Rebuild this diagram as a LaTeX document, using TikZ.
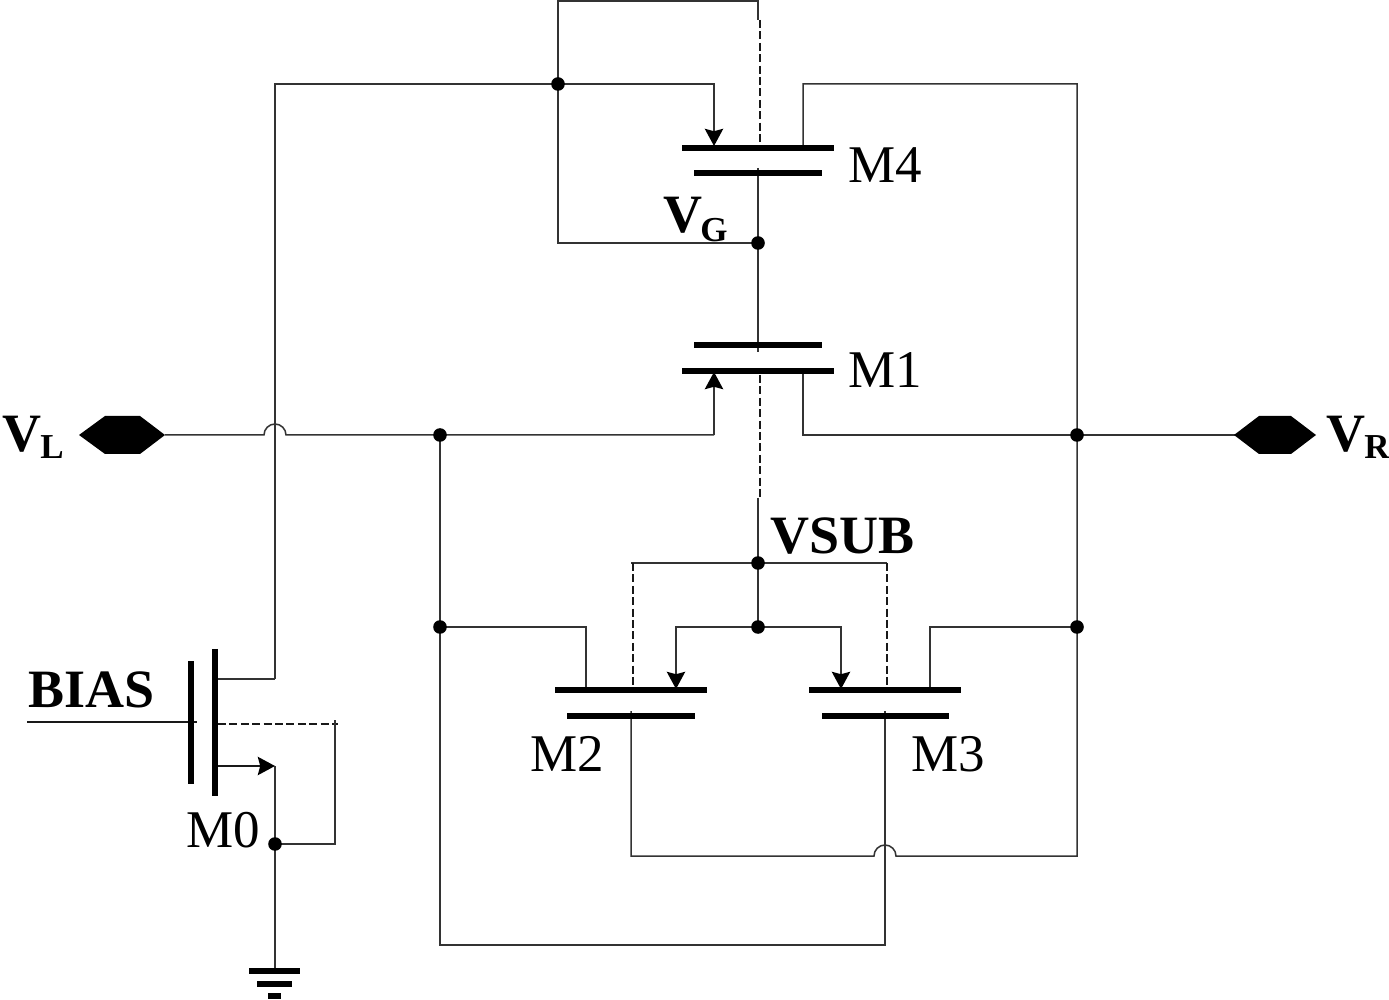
\documentclass[tikz,border=0pt]{standalone}
\usepackage{fontspec}
\setmainfont{Liberation Serif}
\usetikzlibrary{arrows.meta,backgrounds}
\tikzset{
  wire/.style={line width=0.75pt,draw=black!80,line join=miter},
  dwire/.style={line width=0.85pt,draw=black!90,dash pattern=on 4pt off 1.7pt},
  arr/.style={wire,-{Stealth[length=8.6pt,width=9.2pt,inset=1.2pt,color=black]}},
  plate/.style={line width=2.9pt,draw=black},
  jdot/.style={circle,fill=black,inner sep=0pt,minimum size=6.8pt,draw=none},
  devlabel/.style={anchor=base west,inner sep=0pt,font=\fontsize{26.5}{30}\selectfont},
  siglabel/.style={anchor=base west,inner sep=0pt,font=\fontsize{27}{30}\selectfont\bfseries},
  sublabel/.style={anchor=base west,inner sep=0pt,font=\fontsize{17.5}{20}\selectfont\bfseries},
  portshape/.style={fill=black,draw=none}
}
\begin{document}
\begin{tikzpicture}[x=0.5pt,y=-0.5pt]
\useasboundingbox (0,0) rectangle (1389,1000);
% coordinates
\coordinate (tr) at (758,1); \coordinate (trb) at (758,20);
\coordinate (d4t) at (760,20); \coordinate (d4b) at (760,147);
\coordinate (busl) at (275,84); \coordinate (s4t) at (714,84); \coordinate (s4b) at (714,146);
\coordinate (d4top) at (803,84); \coordinate (d4bar) at (803,148); \coordinate (railtr) at (1077,84);
\coordinate (railbr) at (1077,856); \coordinate (x2) at (631,856); \coordinate (g2b) at (631,711);
\coordinate (hump2r) at (896,856);
\coordinate (g4) at (758,168); \coordinate (vgl) at (558,243); \coordinate (g1) at (758,352);
\coordinate (s1b) at (714,435); \coordinate (s1t) at (714,372);
\coordinate (d1t) at (803,371); \coordinate (d1b) at (803,435);
\coordinate (d1dt) at (760,375); \coordinate (d1db) at (760,498); \coordinate (subt) at (758,498);
\coordinate (lp) at (165,435); \coordinate (humpl) at (264,435);
\coordinate (rp) at (1235,435);
\coordinate (vl2) at (631,563); \coordinate (vr2) at (887,563);
\coordinate (dm2t) at (633,563); \coordinate (dm2b) at (633,689);
\coordinate (dm3t) at (887,563); \coordinate (dm3b) at (887,689);
\coordinate (s2t) at (676,627); \coordinate (s2b) at (676,689);
\coordinate (s3t) at (841,627); \coordinate (s3b) at (841,689);
\coordinate (d2t) at (586,627); \coordinate (d2b) at (586,690);
\coordinate (d3t) at (930,627); \coordinate (d3b) at (930,690);
\coordinate (lbb) at (440,945); \coordinate (rbb) at (885,945); \coordinate (g3b) at (885,711);
\coordinate (m0d) at (218,679); \coordinate (m0dc) at (275,679);
\coordinate (biasl) at (27,722); \coordinate (biasr) at (197,722);
\coordinate (m0bl) at (218,724); \coordinate (m0br) at (338,724);
\coordinate (m0bt) at (335,720); \coordinate (m0bb) at (335,844);
\coordinate (m0sl) at (218,766); \coordinate (m0sr) at (275,766);
\coordinate (gnd) at (275,971);
% junctions
\node[jdot] (j1) at (558,84) {};
\node[jdot] (j2) at (758,243) {};
\node[jdot] (j3) at (440,435) {};
\node[jdot] (j4) at (1077,435) {};
\node[jdot] (j5) at (758,563) {};
\node[jdot] (j6) at (758,627) {};
\node[jdot] (j7) at (440,627) {};
\node[jdot] (j8) at (1077,627) {};
\node[jdot] (j9) at (275,844) {};
% wires
\begin{pgfonlayer}{background}
\draw[wire] (j1.center) |- (tr) -- (trb);
\draw[dwire] (d4t) -- (d4b);
\draw[wire] (m0dc) -- (busl) -- (j1.center);
\draw[arr] (j1.center) -- (s4t) -- (s4b);
\draw[wire] (d4bar) -- (d4top) -- (railtr) -- (railbr) -- (hump2r) arc[start angle=0,end angle=180,radius=5.5pt] -- (x2) -- (g2b);
\draw[wire] (g4) -- (j2.center) -- (g1);
\draw[wire] (j2.center) -- (vgl) -- (j1.center);
\draw[wire] (lp) -- (humpl) arc[start angle=180,end angle=0,radius=5.5pt] -- (j3.center) -- (s1b);
\draw[arr] (s1b) -- (s1t);
\draw[wire] (d1t) -- (d1b) -- (j4.center) -- (rp);
\draw[dwire] (d1dt) -- (d1db);
\draw[wire] (subt) -- (j5.center) -- (j6.center);
\draw[wire] (vl2) -- (j5.center) -- (vr2);
\draw[dwire] (dm2t) -- (dm2b);
\draw[dwire] (dm3t) -- (dm3b);
\draw[arr] (j6.center) -- (s2t) -- (s2b);
\draw[arr] (j6.center) -- (s3t) -- (s3b);
\draw[wire] (j3.center) -- (j7.center) -- (d2t) -- (d2b);
\draw[wire] (d3b) -- (d3t) -- (j8.center);
\draw[wire] (j7.center) -- (lbb) -- (rbb) -- (g3b);
\draw[wire] (m0d) -- (m0dc);
\draw[line width=0.75pt,draw=black!90] (biasl) -- (biasr);
\draw[dwire] (m0bl) -- (m0br);
\draw[wire] (m0bt) -- (m0bb) -- (j9.center);
\draw[arr,draw=black!90] (m0sl) -- (m0sr);
\draw[wire] (m0sr) -- (j9.center) -- (gnd);
\end{pgfonlayer}
% plates
\draw[plate] (682,148) -- (834,148);
\draw[plate] (694,173) -- (822,173);
\draw[plate] (694,345) -- (822,345);
\draw[plate] (682,371) -- (834,371);
\draw[plate] (555,690) -- (707,690);
\draw[plate] (567,716) -- (695,716);
\draw[plate] (809,690) -- (961,690);
\draw[plate] (822,716) -- (949,716);
\draw[plate] (191,661) -- (191,784);
\draw[plate] (215,649) -- (215,796);
% ground
\draw[plate] (249,971) -- (300,971);
\draw[plate] (257,984) -- (292,984);
\draw[plate] (268,996) -- (281,996);
% ports
\path[portshape] (79,435) -- (105,416) -- (140,416) -- (165,435) -- (140,454) -- (105,454) -- cycle;
\path[portshape] (1234,435) -- (1259,416) -- (1291,416) -- (1316,435) -- (1291,454) -- (1259,454) -- cycle;
% labels
\node[siglabel] (vl) at (2,452) {V};
\node[sublabel] (vlsub) at (40,459) {L};
\node[siglabel] (vr) at (1326,452) {V};
\node[sublabel] (vrsub) at (1364,459) {R};
\node[siglabel] (vg) at (663,233) {V};
\node[sublabel] (vgsub) at (700,242) {G};
\node[siglabel] (vsub) at (770,553) {VSUB};
\node[siglabel] (bias) at (28,707) {BIAS};
\node[devlabel] (m4) at (848,183) {M4};
\node[devlabel] (m1) at (848,388) {M1};
\node[devlabel] (m2) at (530,771) {M2};
\node[devlabel] (m3) at (911,771) {M3};
\node[devlabel] (m0) at (186,847) {M0};
\end{tikzpicture}
\end{document}
